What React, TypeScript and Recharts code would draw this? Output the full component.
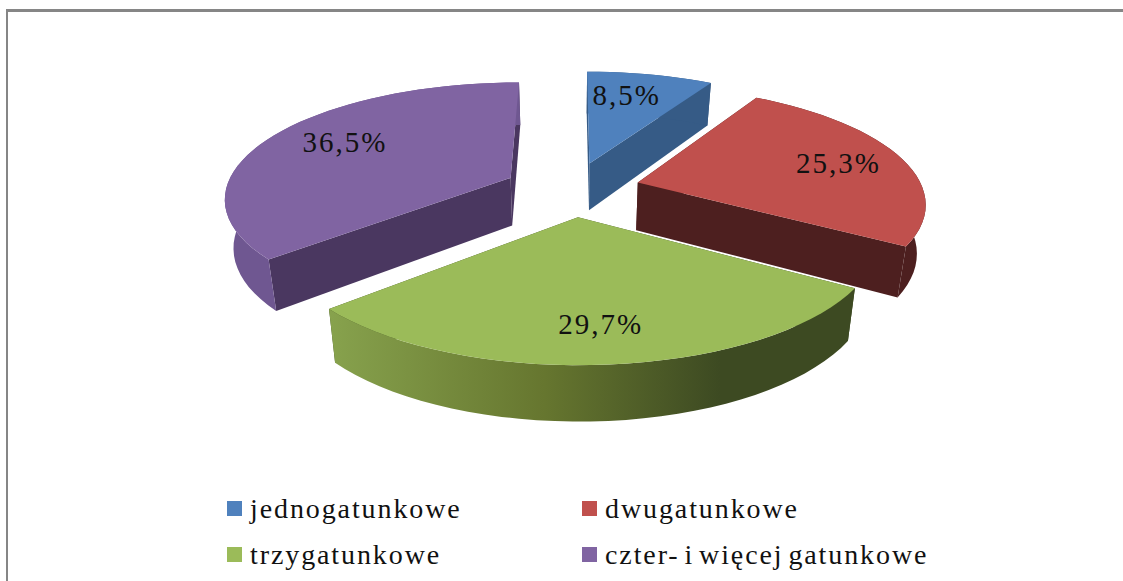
import { PieChart, Pie, Legend } from 'recharts'

const categories = ['jednogatunkowe', 'dwugatunkowe', 'trzygatunkowe', 'czter- i więcej gatunkowe']
const shares = [8.5, 25.3, 29.7, 36.5]
const topColors = ['#4f81bd', '#c0504d', '#9bbb59', '#8064a2']
const cutColors = ['#365b86', '#4d1f1f', '#3d4a22', '#4a3760']
const rimColors = ['#365b86', '#4d1f1f', 'url(#greenRim)', '#6f5791']

const tableData = categories.map((name, i) => ({
  name,
  value: shares[i],
  fill: topColors[i],
  cut: cutColors[i],
  rim: rimColors[i],
}))

// fake 3D: the pie lies on a plane seen in perspective
const PERSPECTIVE = 0.16
const TILT = 0.4
const EXPLODE = 0.24
const DEPTH = 48

const rad = (deg: number) => (deg * Math.PI) / 180

function project(u: number, v: number, cx: number, cy: number, r: number) {
  const d = 1 + PERSPECTIVE * v
  return { x: cx + (u * r) / d, y: cy - (v * r * TILT) / d, v }
}

function drop(p: { x: number; y: number; v: number }, cx: number) {
  return { x: p.x + (cx - p.x) * 0.025, y: p.y + DEPTH / (1 + 0.12 * p.v) }
}

function toPath(points: { x: number; y: number }[]) {
  return 'M' + points.map((p) => `${p.x.toFixed(1)},${p.y.toFixed(1)}`).join('L') + 'Z'
}

function Slice3D(props: any) {
  const { cx, cy, outerRadius, startAngle, endAngle, fill, payload } = props
  // recharts angles are counter-clockwise from 3 o'clock, here clockwise from 12
  const a0 = 90 - startAngle
  const a1 = 90 - endAngle
  const mid = rad((a0 + a1) / 2)
  const ou = EXPLODE * Math.sin(mid)
  const ov = EXPLODE * Math.cos(mid)
  const apex = project(ou, ov, cx, cy, outerRadius)
  const arc = []
  const steps = Math.ceil(Math.abs(a1 - a0) / 3)
  for (let i = 0; i <= steps; i++) {
    const a = rad(a0 + ((a1 - a0) * i) / steps)
    arc.push(project(ou + Math.sin(a), ov + Math.cos(a), cx, cy, outerRadius))
  }
  const low = arc.map((p) => drop(p, cx))
  const lowApex = drop(apex, cx)
  const first = arc[0]
  const last = arc[arc.length - 1]
  return (
    <g>
      <path d={toPath([apex, first, drop(first, cx), lowApex])} fill={payload.cut} />
      <path d={toPath([apex, last, drop(last, cx), lowApex])} fill={payload.cut} />
      <path d={toPath([...arc, ...[...low].reverse()])} fill={payload.rim} />
      <path d={toPath([apex, ...arc])} fill={fill} />
    </g>
  )
}

const labelReach = [0.74, 0.76, 0.76, 0.72]
const labelTurn = [-3, 0, 0, 4]

function SliceLabel(props: any) {
  const { cx, cy, outerRadius, midAngle, index } = props
  const a = rad(90 - midAngle)
  const t = a + rad(labelTurn[index])
  const ou = EXPLODE * Math.sin(a) + labelReach[index] * Math.sin(t)
  const ov = EXPLODE * Math.cos(a) + labelReach[index] * Math.cos(t)
  const p = project(ou, ov, cx, cy, outerRadius)
  return (
    <text x={p.x} y={p.y} textAnchor="middle" dominantBaseline="central" fontFamily="'Liberation Serif', serif" fontSize={29} letterSpacing={2} fill="#111">
      {shares[index].toFixed(1).replace('.', ',')}%
    </text>
  )
}

function LegendBlock({ payload }: any) {
  const left = [227, 582]
  const rows = [501, 547]
  return (
    <div style={{ position: 'relative', width: 1123, height: 581 }}>
      {(payload || []).map((entry: any, i: number) => (
        <div key={entry.value} style={{ position: 'absolute', left: left[i % 2], top: rows[i < 2 ? 0 : 1], display: 'flex', alignItems: 'center', height: 15 }}>
          <span style={{ width: 15, height: 15, background: entry.color, marginRight: 8 }} />
          <span style={{ fontFamily: "'Liberation Serif', serif", fontSize: 28, letterSpacing: 1.9, wordSpacing: -4, color: '#111', whiteSpace: 'nowrap' }}>{entry.value}</span>
        </div>
      ))}
    </div>
  )
}

export default function App() {
  return (
    <div style={{ position: 'absolute', left: 0, top: 0, width: 1123, height: 581, overflow: 'hidden', background: '#fff' }}>
      <div style={{ position: 'absolute', left: 6, top: 9, width: 1117, height: 572, boxSizing: 'border-box', borderTop: '3px solid #868686', borderLeft: '2px solid #868686' }} />
      <PieChart width={1123} height={581} style={{ position: 'absolute', left: 0, top: 0 }}>
        <defs>
          <linearGradient id="greenRim" gradientUnits="userSpaceOnUse" x1={330} y1={0} x2={720} y2={0}>
            <stop offset="0%" stopColor="#87a24d" />
            <stop offset="55%" stopColor="#66762f" />
            <stop offset="100%" stopColor="#3d4a22" />
          </linearGradient>
        </defs>
        <Pie
          data={tableData}
          dataKey="value"
          nameKey="name"
          cx={567}
          cy={184}
          innerRadius={0}
          outerRadius={285}
          startAngle={90}
          endAngle={-270}
          stroke="none"
          shape={Slice3D}
          label={SliceLabel}
          labelLine={false}
          isAnimationActive={false}
        />
        <Legend content={LegendBlock} itemSorter={null} wrapperStyle={{ left: 0, top: 0, bottom: 'auto', width: 1123, height: 581 }} />
      </PieChart>
    </div>
  )
}
